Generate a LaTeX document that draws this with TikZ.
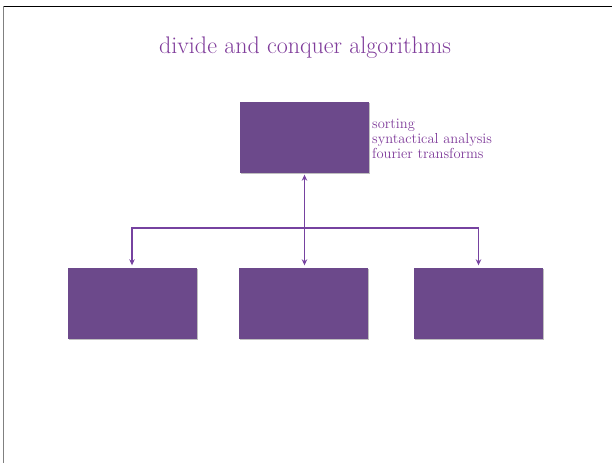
\documentclass[tikz,border=0pt]{standalone}
\usetikzlibrary{arrows.meta,shadows}
\definecolor{boxpurple}{RGB}{108,73,139}
\definecolor{txtpurple}{RGB}{128,60,155}
\definecolor{linepurple}{RGB}{118,66,160}
\tikzset{
  pbox/.style={rectangle, fill=boxpurple, draw=none, inner sep=0pt,
    minimum width=129pt, minimum height=71pt,
    drop shadow={shadow xshift=1.2pt, shadow yshift=-1.2pt, fill=black!25, opacity=1}},
  conn/.style={draw=linepurple, line width=1.4pt, -{Stealth[length=6pt,width=5.5pt]}},
  title/.style={text=txtpurple, font=\fontsize{24}{28}\selectfont},
  note/.style={text=txtpurple, font=\fontsize{14.5}{15}\selectfont, align=left, inner sep=0pt}
}
\begin{document}
\begin{tikzpicture}[x=1pt,y=-1pt]
\useasboundingbox (0,0) rectangle (612,463);
\fill[white] (0,0) rectangle (612,463);
\draw[black, line width=1pt] (3,6) -- (612,6);
\draw[black!50, line width=1.6pt] (3.5,6) -- (3.5,463);

\node[title, anchor=base] (ttl) at (305,53) {divide and conquer algorithms};

\node[pbox] (top) at (304.5,137) {};
\node[pbox] (b1) at (132,303) {};
\node[pbox] (b2) at (303,303) {};
\node[pbox] (b3) at (478.5,303) {};

\node[note, anchor=north west] (lst) at (372,118.5) {sorting\\syntactical analysis\\fourier transforms};

\coordinate (hub) at (top.south |- 0,228);
\draw[conn, {Stealth[length=6pt,width=5.5pt]}-{Stealth[length=6pt,width=5.5pt]}, shorten <=2pt, shorten >=2pt] (top.south) -- (top.south |- b2.north);
\draw[conn, shorten >=2pt] (hub) -| (b1.north);
\draw[conn, shorten >=2pt] (hub) -| (b3.north);
\end{tikzpicture}
\end{document}
